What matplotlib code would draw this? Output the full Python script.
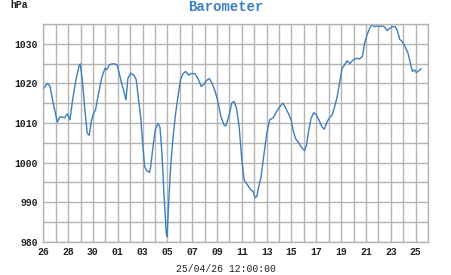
import matplotlib
matplotlib.use("Agg")
import matplotlib.pyplot as plt
import matplotlib.dates as mdates
import pandas as pd

# Day offsets from 2025-03-26 00:00 and pressure (hPa)
day_offset = [0.0, 0.32, 0.54, 0.8, 1.13, 1.34, 1.56, 1.72, 1.93, 2.15, 2.36, 2.63, 2.9, 2.98,
              3.17, 3.35, 3.54, 3.7, 3.89, 4.08, 4.21, 4.43, 4.7, 4.97, 5.1, 5.31, 5.5, 5.77,
              5.96, 6.1, 6.28, 6.5, 6.66, 6.82, 7.04, 7.3, 7.49, 7.68, 7.84, 8.03, 8.16, 8.33,
              8.54, 8.64, 8.81, 9.02, 9.24, 9.4, 9.56, 9.72, 9.91, 9.98, 10.09, 10.26, 10.44,
              10.63, 10.85, 11.06, 11.25, 11.47, 11.7, 11.97, 12.24, 12.51, 12.72, 12.96, 13.15,
              13.37, 13.58, 13.85, 14.04, 14.31, 14.57, 14.71, 14.98, 15.19, 15.38, 15.57,
              15.78, 16.0, 16.18, 16.46, 16.72, 16.91, 17.07, 17.2, 17.39, 17.55, 17.79, 18.01,
              18.25, 18.52, 18.84, 19.11, 19.32, 19.54, 19.78, 19.97, 20.13, 20.32, 20.59,
              20.86, 21.05, 21.21, 21.39, 21.58, 21.8, 22.01, 22.2, 22.46, 22.65, 22.87, 23.08,
              23.27, 23.46, 23.68, 23.89, 24.08, 24.27, 24.48, 24.7, 24.96, 25.23, 25.5, 25.71,
              25.9, 26.08, 26.3, 26.48, 26.7, 26.89, 27.11, 27.33, 27.51, 27.7, 27.92, 28.13,
              28.35, 28.51, 28.72, 28.94, 29.15, 29.39, 29.58, 29.74, 29.9, 30.06, 30.25, 30.44]
pressure = [1018.5, 1020.0, 1019.3, 1015.0, 1010.2, 1011.6, 1011.4, 1011.3, 1012.3, 1010.8,
            1015.8, 1020.9, 1024.6, 1024.9, 1020.0, 1013.3, 1007.4, 1006.9, 1010.8, 1012.6,
            1013.3, 1017.1, 1021.3, 1023.8, 1023.4, 1024.6, 1024.9, 1024.9, 1024.6, 1022.8,
            1020.4, 1017.9, 1015.8, 1021.3, 1022.5, 1022.1, 1020.9, 1015.8, 1011.6, 1004.0,
            999.0, 998.0, 997.5, 998.6, 1003.2, 1008.2, 1009.9, 1009.0, 1002.4, 992.2, 982.1,
            981.3, 988.9, 999.0, 1005.8, 1011.6, 1016.6, 1020.9, 1022.4, 1023.0, 1022.1,
            1022.5, 1022.4, 1020.9, 1019.2, 1019.8, 1020.7, 1021.2, 1020.2, 1017.9, 1015.8,
            1011.6, 1009.5, 1009.2, 1012.0, 1015.1, 1015.4, 1013.7, 1009.1, 1000.7, 995.6,
            994.3, 993.1, 992.7, 991.1, 991.4, 994.3, 996.4, 1002.3, 1007.4, 1010.8, 1011.3,
            1013.1, 1014.3, 1015.0, 1013.7, 1012.2, 1010.8, 1008.2, 1006.1, 1004.9, 1003.6,
            1003.0, 1004.4, 1008.2, 1011.2, 1012.6, 1012.0, 1010.8, 1009.0, 1008.4, 1010.3,
            1011.4, 1012.0, 1013.9, 1016.6, 1020.4, 1023.8, 1024.6, 1025.7, 1025.0, 1025.9,
            1026.3, 1026.2, 1026.8, 1030.2, 1032.2, 1033.9, 1034.8, 1034.3, 1034.5, 1034.3,
            1034.5, 1034.2, 1033.3, 1033.9, 1034.3, 1034.3, 1033.5, 1031.1, 1030.5, 1029.3,
            1027.6, 1025.1, 1023.0, 1023.4, 1022.7, 1023.2, 1023.6]

start = pd.Timestamp("2025-03-26")
end = pd.Timestamp("2025-04-26")
times = [start + pd.Timedelta(days=d) for d in day_offset]

title = "Barometer"
unit = "hPa"
xlabel = "25/04/26 12:00:00"

mono = "Liberation Mono"
fig = plt.figure(figsize=(4.51, 2.75), dpi=100)
ax = fig.add_axes([0.096, 0.121, 0.853, 0.792])

ax.plot(times, pressure, color="#3d7fbf", lw=1.0)

ax.set_xlim(start, end)
ax.set_ylim(980, 1035)
ax.set_yticks([980, 990, 1000, 1010, 1020, 1030])
ax.set_yticks(range(980, 1036, 5), minor=True)
ax.xaxis.set_major_locator(mdates.DayLocator(interval=2))
ax.xaxis.set_major_formatter(mdates.DateFormatter("%d"))
ax.xaxis.set_minor_locator(mdates.DayLocator())

ax.grid(True, which="both", color="#b4b4b4", lw=1.0)
ax.set_axisbelow(True)
for s in ax.spines.values():
    s.set_color("#b4b4b4")
    s.set_linewidth(1.0)
ax.tick_params(which="both", length=0, pad=4)
for lab in ax.get_xticklabels() + ax.get_yticklabels():
    lab.set_fontfamily(mono)
    lab.set_fontweight("bold")
    lab.set_fontsize(7)
    lab.set_color("#222222")

fig.text(0.5, 0.973, title, ha="center", va="center", fontfamily=mono,
         fontweight="bold", fontsize=10, color="#3b7fc4")
fig.text(0.022, 0.98, unit, ha="left", va="center", fontfamily=mono,
         fontweight="bold", fontsize=7, color="#222222")
fig.text(0.5, 0.021, xlabel, ha="center", va="center", fontfamily=mono,
         fontsize=7, color="#222222")

fig.savefig("out.png", dpi=100)
